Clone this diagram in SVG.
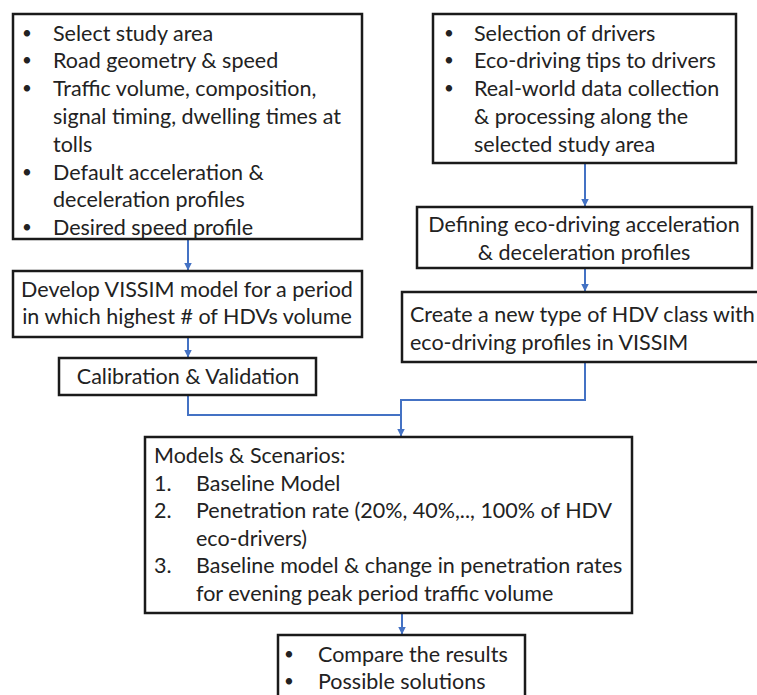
<svg xmlns="http://www.w3.org/2000/svg" width="757" height="695" viewBox="0 0 757 695">
<style>
  .box { fill: #ffffff; stroke: #1a1a1a; stroke-width: 2.5; }
  .t { font-family: Lato, "Open Sans", "Liberation Sans", sans-serif; font-size: 21.5px; fill: #222222; }
  .b { font-family: Lato, "Open Sans", "Liberation Sans", sans-serif; font-size: 17px; fill: #222222; }
  .c { text-anchor: middle; }
  .conn { fill: none; stroke: #4472C4; stroke-width: 2; }
</style>
<defs>
  <marker id="arr" viewBox="0 0 8 8" refX="7.5" refY="4" markerWidth="4" markerHeight="4" orient="auto" markerUnits="strokeWidth">
    <path d="M0,0 L8,4 L0,8 z" fill="#4472C4"/>
  </marker>
</defs>
<rect width="757" height="695" fill="#ffffff"/>

<g id="connectors">
  <path class="conn" d="M188,239 V270" marker-end="url(#arr)"/>
  <path class="conn" d="M188,337 V357" marker-end="url(#arr)"/>
  <path class="conn" d="M585,163 V206" marker-end="url(#arr)"/>
  <path class="conn" d="M585,268 V291" marker-end="url(#arr)"/>
  <path class="conn" d="M188,395 V415 H401"/>
  <path class="conn" d="M585,362 V400 H401 V436" marker-end="url(#arr)"/>
  <path class="conn" d="M402,613 V634" marker-end="url(#arr)"/>
</g>

<g id="inputs">
  <rect class="box" x="13" y="14" width="349" height="225"/>
  <g class="b">
    <text x="22" y="38.5">•</text>
    <text x="22" y="66.3">•</text>
    <text x="22" y="94.1">•</text>
    <text x="22" y="177.5">•</text>
    <text x="22" y="233.1">•</text>
  </g>
  <g class="t">
    <text x="53" y="40.5">Select study area</text>
    <text x="53" y="68.3">Road geometry &amp; speed</text>
    <text x="53" y="96.1">Traffic volume, composition,</text>
    <text x="53" y="123.9">signal timing, dwelling times at</text>
    <text x="53" y="151.7">tolls</text>
    <text x="53" y="179.5">Default acceleration &amp;</text>
    <text x="53" y="207.3">deceleration profiles</text>
    <text x="53" y="235.1">Desired speed profile</text>
  </g>
</g>

<g id="drivers">
  <rect class="box" x="433" y="14" width="303" height="149"/>
  <g class="b">
    <text x="444" y="38.5">•</text>
    <text x="444" y="66.3">•</text>
    <text x="444" y="94.1">•</text>
  </g>
  <g class="t">
    <text x="474" y="40.5">Selection of drivers</text>
    <text x="474" y="68.3">Eco-driving tips to drivers</text>
    <text x="474" y="96.1">Real-world data collection</text>
    <text x="474" y="123.9">&amp; processing along the</text>
    <text x="474" y="151.7">selected study area</text>
  </g>
</g>

<g id="eco-profiles">
  <rect class="box" x="417" y="207" width="335" height="61"/>
  <text class="t c" x="584" y="232">Defining eco-driving acceleration</text>
  <text class="t c" x="584" y="260">&amp; deceleration profiles</text>
</g>

<g id="hdv-class">
  <rect class="box" x="402" y="292" width="360" height="70"/>
  <text class="t" x="410" y="322">Create a new type of HDV class with</text>
  <text class="t" x="410" y="350">eco-driving profiles in VISSIM</text>
</g>

<g id="vissim-model">
  <rect class="box" x="13" y="271" width="349" height="66"/>
  <text class="t c" x="187" y="297">Develop VISSIM model for a period</text>
  <text class="t c" x="187" y="324">in which highest # of HDVs volume</text>
</g>

<g id="calibration">
  <rect class="box" x="59" y="358" width="257" height="37"/>
  <text class="t c" x="188" y="384">Calibration &amp; Validation</text>
</g>

<g id="scenarios">
  <rect class="box" x="145" y="437" width="487" height="176"/>
  <g class="t">
    <text x="154" y="463">Models &amp; Scenarios:</text>
    <text x="154" y="490.6">1.</text><text x="196" y="490.6">Baseline Model</text>
    <text x="154" y="518.2">2.</text><text x="196" y="518.2">Penetration rate (20%, 40%,.., 100% of HDV</text>
    <text x="196" y="545.8">eco-drivers)</text>
    <text x="154" y="573.4">3.</text><text x="196" y="573.4">Baseline model &amp; change in penetration rates</text>
    <text x="196" y="601">for evening peak period traffic volume</text>
  </g>
</g>

<g id="results">
  <rect class="box" x="278" y="635" width="247" height="70"/>
  <g class="b">
    <text x="284" y="660">•</text>
    <text x="284" y="687">•</text>
  </g>
  <g class="t">
    <text x="318" y="662">Compare the results</text>
    <text x="318" y="689">Possible solutions</text>
  </g>
</g>
</svg>
